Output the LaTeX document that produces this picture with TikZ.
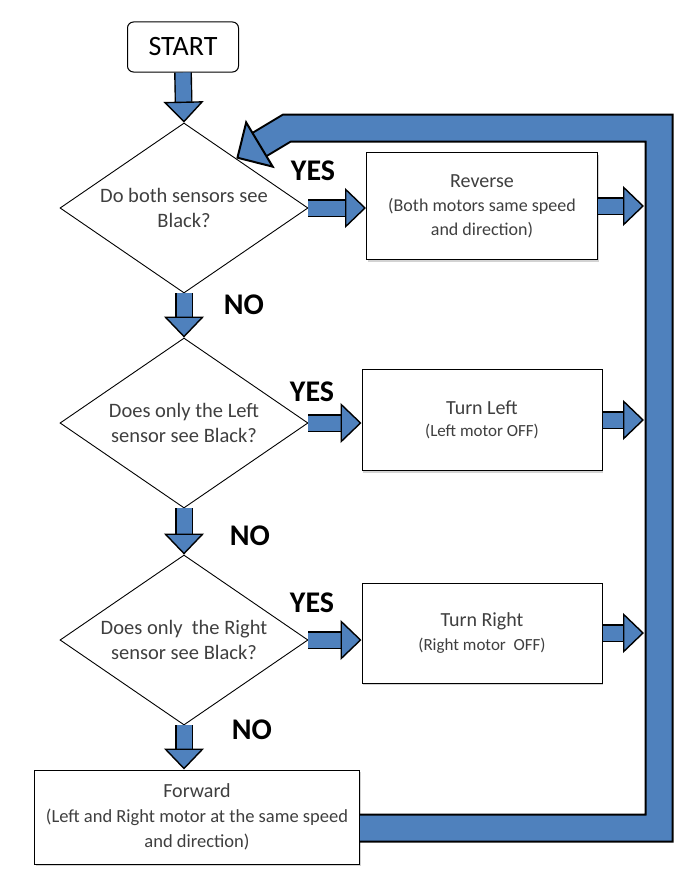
\documentclass[tikz,border=0pt]{standalone}
\usepackage{fontspec}
\setmainfont{Carlito}
\usepackage{tikz}
\usetikzlibrary{shapes.geometric, arrows.meta, positioning, calc, shadows}
\definecolor{flowblue}{HTML}{4F81BD}
\definecolor{textgrey}{HTML}{3F3F3F}

\begin{document}
\begin{tikzpicture}[x=1pt, y=-1pt,
  decision/.style={draw, diamond, aspect=1.46, inner sep=0pt, minimum width=248pt, minimum height=170pt, align=center, text=textgrey, line width=0.9pt, font=\fontsize{20.5}{25}\selectfont},
  actbox/.style={draw, fill=white, line width=1pt, minimum width=240pt, align=center, text=textgrey, font=\fontsize{18}{23}\selectfont, drop shadow={opacity=0.35, shadow xshift=1pt, shadow yshift=-2pt}},
  boxtitle/.style={font=\fontsize{20}{24}\selectfont},
  fat/.style={draw=black, line width=1.4pt, double=flowblue, double distance=15pt, -{Triangle[length=21pt, width=40pt, fill=flowblue, line width=1.4pt]}},
  bigfat/.style={draw=black, line width=2pt, double=flowblue, double distance=25pt, line join=miter, -{Triangle[length=28pt, width=56pt, fill=flowblue, line width=2pt]}},
  yesno/.style={font=\fontsize{30}{30}\selectfont\bfseries},
]
  \useasboundingbox (0,0) rectangle (685,883);

  \node[draw, rounded corners=6pt, line width=1pt, minimum width=111pt, minimum height=50pt, font=\fontsize{28}{28}\selectfont] (start) at (183,47) {START};

  \node[decision] (d1) at (184,208) {Do both sensors see\\Black?};
  \node[decision] (d2) at (184,423) {Does only the Left\\sensor see Black?};
  \node[decision] (d3) at (184,640) {Does only\ \ the Right\\sensor see Black?};

  \node[actbox, minimum width=231pt, minimum height=107pt, font=\fontsize{18}{24}\selectfont] (reverse) at (482,206)
    {{\fontsize{20}{24}\selectfont Reverse}\\(Both motors same speed\\and direction)};
  \node[actbox, minimum height=101pt, font=\fontsize{17}{22}\selectfont] (turnleft) at (482,420)
    {{\fontsize{20}{22}\selectfont Turn Left}\\(Left motor OFF)};
  \node[actbox, minimum height=100pt, font=\fontsize{17}{24}\selectfont] (turnright) at (482,633)
    {{\fontsize{20}{24}\selectfont Turn Right}\\(Right motor\ \ OFF)};
  \node[actbox, minimum width=325pt, minimum height=94pt, font=\fontsize{18.5}{25}\selectfont] (forward) at (197,817)
    {{\fontsize{20}{25}\selectfont Forward}\\(Left and Right motor at the same speed\\and direction)};

  \node[yesno] (yes1) at (313,171) {YES};
  \node[yesno] (yes2) at (312,392) {YES};
  \node[yesno] (yes3) at (312,603) {YES};
  \node[yesno] (no1) at (244,305) {NO};
  \node[yesno] (no2) at (250,536) {NO};
  \node[yesno] (no3) at (252,730) {NO};

  % loop back to the first question
  \coordinate (bandin) at (644,0);
  \coordinate (loopcorner) at (659,128);
  \coordinate (loopneck) at (287,128);
  \coordinate (looptip) at ($(d1.north)!0.42!(d1.east)$);
  \draw[bigfat] ([yshift=-11pt]forward.east) -| (loopcorner) -- (loopneck) -- (looptip);

  \draw[fat] (start.south) -- (d1.north);
  \draw[fat] (d1.south) -- (d2.north);
  \draw[fat] (d2.south) -- (d3.north);
  \draw[fat] (d3.south) -- (d3.south |- forward.north);

  \draw[fat] (d1.east) -- (d1.east -| reverse.west);
  \draw[fat] (d2.east) -- (d2.east -| turnleft.west);
  \draw[fat] (d3.east) -- (d3.east -| turnright.west);

  \draw[fat] (reverse.east) -- (reverse.east -| bandin);
  \draw[fat] (turnleft.east) -- (turnleft.east -| bandin);
  \draw[fat] (turnright.east) -- (turnright.east -| bandin);
\end{tikzpicture}
\end{document}
